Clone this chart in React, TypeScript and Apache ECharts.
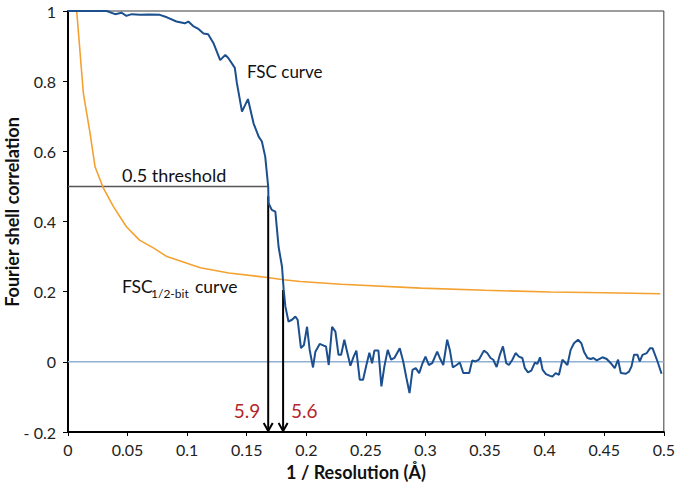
import React, { useEffect, useRef } from "react";
import * as echarts from "echarts";

const xTicks = [0, 0.05, 0.1, 0.15, 0.2, 0.25, 0.3, 0.35, 0.4, 0.45, 0.5];
const yTicks = [-0.2, 0, 0.2, 0.4, 0.6, 0.8, 1];

// FSC curve: [1/resolution, correlation]
const fscCurve: [number, number][] = [
  [0, 1.0], [0.0325, 1.0], [0.0395, 0.991], [0.045, 0.995], [0.049, 0.986], [0.0535, 0.991],
  [0.0605, 0.989], [0.068, 0.99], [0.077, 0.989], [0.083, 0.982], [0.091, 0.97], [0.098, 0.965],
  [0.101, 0.97], [0.105, 0.957], [0.109, 0.95], [0.1137, 0.936], [0.1176, 0.934], [0.122, 0.909],
  [0.1277, 0.86], [0.132, 0.875], [0.1345, 0.866], [0.14, 0.838], [0.1417, 0.795], [0.146, 0.713],
  [0.151, 0.749], [0.1557, 0.68], [0.16, 0.642], [0.1627, 0.628], [0.1655, 0.585], [0.168, 0.499],
  [0.1683, 0.452], [0.171, 0.433], [0.174, 0.428], [0.1767, 0.328], [0.1796, 0.271], [0.181, 0.205],
  [0.1824, 0.158], [0.185, 0.115], [0.188, 0.12], [0.1908, 0.129], [0.1927, 0.12], [0.1955, 0.039],
  [0.198, 0.048], [0.2006, 0.1], [0.2028, 0.034], [0.2056, -0.016], [0.2076, 0.029], [0.2112, 0.051],
  [0.2146, 0.046], [0.2165, 0.044], [0.2188, -0.009], [0.2216, 0.1], [0.2244, 0.086], [0.227, 0.02],
  [0.2292, 0.02], [0.2319, 0.063], [0.2342, 0.029], [0.237, -0.011], [0.2397, 0.015], [0.242, 0.032],
  [0.2448, -0.051], [0.2476, -0.051], [0.2504, -0.009], [0.2529, 0.026], [0.2552, -0.004], [0.2571, 0.032],
  [0.2605, 0.032], [0.263, -0.07], [0.2655, -0.013], [0.2683, 0.034], [0.2712, 0.006], [0.2739, 0.011],
  [0.2784, 0.039], [0.2813, 0.001], [0.284, -0.046], [0.2866, -0.089], [0.2891, -0.023], [0.2918, -0.018],
  [0.2947, -0.032], [0.2975, -0.004], [0.3, 0.015], [0.3028, -0.009], [0.3056, -0.004], [0.3098, 0.029],
  [0.312, 0.011], [0.3149, -0.009], [0.3182, 0.063], [0.3204, 0.034], [0.3229, -0.016], [0.3261, -0.009],
  [0.3288, -0.002], [0.3317, -0.032], [0.3345, -0.032], [0.3367, -0.032], [0.3392, 0.004], [0.342, 0.001],
  [0.3448, 0.006], [0.349, 0.032], [0.3518, 0.025], [0.3546, 0.011], [0.3569, 0.006], [0.3597, -0.015],
  [0.3624, 0.02], [0.365, 0.044], [0.3678, -0.004], [0.37, -0.009], [0.3729, 0.006], [0.3756, 0.025],
  [0.3784, 0.015], [0.3813, 0.011], [0.3834, -0.018], [0.386, -0.03], [0.3888, -0.025], [0.3918, -0.002],
  [0.3939, -0.006], [0.3961, 0.013], [0.3983, -0.023], [0.4011, -0.035], [0.4045, -0.04], [0.4065, -0.042],
  [0.4092, -0.032], [0.412, -0.037], [0.4149, 0.006], [0.4191, -0.009], [0.4218, 0.034], [0.4246, 0.053],
  [0.428, 0.063], [0.4308, 0.053], [0.433, 0.029], [0.4359, 0.011], [0.4387, 0.008], [0.4409, 0.011],
  [0.4437, 0.004], [0.4485, 0.013], [0.4521, 0.008], [0.4555, -0.004], [0.4588, -0.018], [0.4616, 0.006],
  [0.4639, -0.032], [0.4681, -0.034], [0.4708, -0.028], [0.4729, -0.013], [0.475, 0.02], [0.4779, 0.02],
  [0.4798, 0.001], [0.4821, 0.02], [0.4857, 0.025], [0.4885, 0.039], [0.4905, 0.039], [0.4947, 0.001],
  [0.4981, -0.034],
];

// FSC 1/2-bit threshold curve
const halfBitCurve: [number, number][] = [
  [0.0073, 1.0], [0.0129, 0.765], [0.0185, 0.652], [0.0227, 0.556], [0.0297, 0.495], [0.038, 0.443],
  [0.049, 0.385], [0.06, 0.347], [0.072, 0.324], [0.083, 0.3], [0.111, 0.268], [0.135, 0.253],
  [0.161, 0.243], [0.181, 0.234], [0.195, 0.229], [0.229, 0.221], [0.296, 0.21], [0.35, 0.204],
  [0.405, 0.199], [0.45, 0.197], [0.497, 0.194],
];

const zeroLine: [number, number][] = [[0, 0], [0.5, 0]];
const thresholdLine: [number, number][] = [[0, 0.5], [0.168, 0.5]];
// arrows: [x, start y]
const arrows: [number, number][] = [[0.168, 0.472], [0.1805, 0.205]];
const arrowLabels = ["5.9", "5.6"];

const FONT = "Lato, 'Noto Sans', sans-serif";

export default function App() {
  const ref = useRef<HTMLDivElement>(null);
  useEffect(() => {
    if (!ref.current) return;
    const chart = echarts.init(ref.current, null, { renderer: "svg" });
    const fmtX = (v: number) => String(parseFloat(v.toFixed(2)));
    const fmtY = (v: number) => {
      const s = String(parseFloat(v.toFixed(2)));
      return v < 0 ? "- " + s.replace("-", "") : s;
    };
    const txt = (text: string, x: number, y: number, size: number) => ({
      type: "text",
      style: {
        text,
        x,
        y,
        align: "left",
        verticalAlign: "middle",
        textAlign: "left",
        textVerticalAlign: "middle",
        fill: "#111",
        font: size + "px " + FONT,
      },
    });
    chart.setOption({
      animation: false,
      backgroundColor: "#ffffff",
      grid: {
        left: 68,
        right: 14,
        top: 11,
        bottom: 58,
        show: true,
        borderColor: "#3a3a3a",
        borderWidth: 1,
      },
      xAxis: {
        type: "value",
        min: 0,
        max: 0.5,
        interval: 0.05,
        axisLine: { onZero: false, lineStyle: { color: "#000", width: 2 } },
        axisTick: { show: true, length: 4, lineStyle: { color: "#000" } },
        splitLine: { show: false },
        axisLabel: {
          formatter: fmtX,
          color: "#222",
          fontFamily: FONT,
          fontSize: 16,
          margin: 9,
          showMinLabel: true,
          showMaxLabel: true,
        },
      },
      yAxis: {
        type: "value",
        min: -0.2,
        max: 1,
        interval: 0.2,
        axisLine: { onZero: false, lineStyle: { color: "#000", width: 2 } },
        axisTick: { show: true, length: 5, lineStyle: { color: "#000" } },
        splitLine: { show: false },
        axisLabel: {
          formatter: fmtY,
          color: "#222",
          fontFamily: FONT,
          fontSize: 16,
          margin: 12,
        },
      },
      series: [
        {
          type: "line",
          data: zeroLine,
          showSymbol: false,
          lineStyle: { color: "#8fb0d3", width: 1.5 },
          z: 1,
        },
        {
          type: "line",
          data: thresholdLine,
          showSymbol: false,
          lineStyle: { color: "#555", width: 1.5 },
          z: 2,
        },
        {
          type: "line",
          data: halfBitCurve,
          showSymbol: false,
          lineStyle: { color: "#f4a131", width: 1.6 },
          z: 3,
        },
        {
          type: "custom",
          data: arrows,
          encode: { x: 0, y: 1 },
          z: 4,
          renderItem: (params: any, api: any) => {
            const x = api.value(0);
            const y = api.value(1);
            const top = api.coord([x, y]);
            const bot = api.coord([x, -0.2]);
            const label = arrowLabels[params.dataIndex];
            const isLeft = params.dataIndex === 0;
            return {
              type: "group",
              children: [
                {
                  type: "line",
                  shape: { x1: top[0], y1: top[1], x2: bot[0], y2: bot[1] - 1 },
                  style: { stroke: "#000", lineWidth: 2 },
                },
                {
                  type: "polyline",
                  shape: {
                    points: [
                      [bot[0] - 4.5, bot[1] - 9],
                      [bot[0], bot[1] - 1],
                      [bot[0] + 4.5, bot[1] - 9],
                    ],
                  },
                  style: { stroke: "#000", lineWidth: 2, fill: "none" },
                },
                {
                  type: "text",
                  style: {
                    text: label,
                    x: isLeft ? bot[0] - 8 : bot[0] + 8,
                    y: bot[1] - 22,
                    align: isLeft ? "right" : "left",
                    verticalAlign: "middle",
                    textAlign: isLeft ? "right" : "left",
                    textVerticalAlign: "middle",
                    fill: "#b3262b",
                    font: "19px " + FONT,
                  },
                },
              ],
            };
          },
        },
        {
          type: "line",
          data: fscCurve,
          showSymbol: false,
          lineStyle: { color: "#1c4f8d", width: 2 },
          z: 5,
        },
      ],
      graphic: [
        txt("FSC curve", 247, 71, 17),
        txt("0.5 threshold", 122, 175, 18),
        txt("FSC", 122, 286, 17.5),
        txt("1/2-bit", 151, 293, 12),
        txt("curve", 195, 286, 17.5),
        {
          type: "text",
          rotation: Math.PI / 2,
          x: 12,
          y: 212,
          style: {
            text: "Fourier shell correlation",
            x: 0,
            y: 0,
            align: "center",
            verticalAlign: "middle",
            textAlign: "center",
            textVerticalAlign: "middle",
            fill: "#111",
            font: "bold 18px " + FONT,
          },
        },
        {
          type: "text",
          x: 356,
          y: 472,
          style: {
            text: "1 / Resolution (Å)",
            x: 0,
            y: 0,
            align: "center",
            verticalAlign: "middle",
            textAlign: "center",
            textVerticalAlign: "middle",
            fill: "#111",
            font: "bold 18px " + FONT,
          },
        },
      ],
    });
    return () => chart.dispose();
  }, []);
  return (
    <div
      ref={ref}
      style={{ position: "fixed", left: 0, top: 0, width: 678, height: 490, background: "#fff" }}
    />
  );
}
